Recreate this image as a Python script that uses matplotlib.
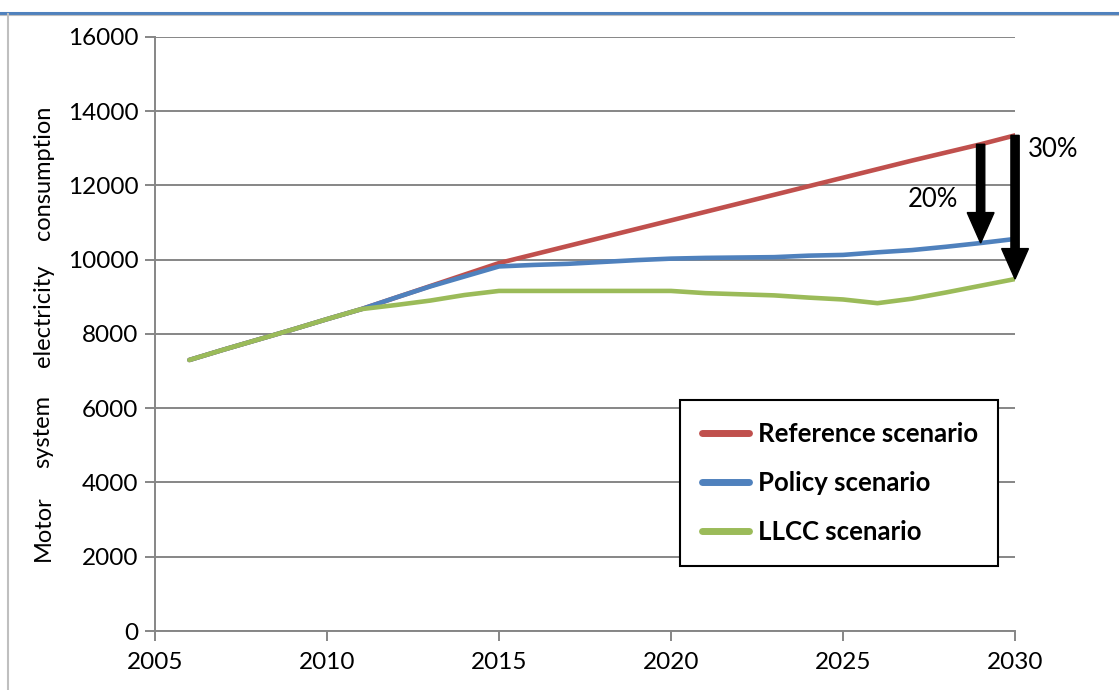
import numpy as np
import matplotlib.pyplot as plt
from matplotlib.lines import Line2D

plt.rcParams['font.family'] = ['Lato', 'DejaVu Sans']

# yearly values, 2006-2030
years = list(range(2006, 2031))
reference = [7300, 7580, 7850, 8120, 8400, 8670, 8980, 9290, 9600, 9910,
             10140, 10370, 10600, 10830, 11060, 11290, 11520, 11750, 11980, 12210,
             12440, 12670, 12890, 13110, 13350]
policy = [7300, 7580, 7850, 8120, 8400, 8670, 8980, 9280, 9550, 9820,
          9860, 9890, 9940, 9990, 10030, 10050, 10060, 10070, 10110, 10130,
          10200, 10260, 10350, 10450, 10560]
llcc = [7300, 7580, 7850, 8120, 8400, 8670, 8780, 8900, 9050, 9160,
        9160, 9160, 9160, 9160, 9160, 9100, 9070, 9040, 8980, 8930,
        8830, 8950, 9120, 9300, 9480]
labels = ['Reference scenario', 'Policy scenario', 'LLCC scenario']
colors = ['#C0504D', '#4F81BD', '#9BBB59']
ylabel_words = ['Motor', 'system', 'electricity', 'consumption']

grey = '#868686'

fig = plt.figure(figsize=(11.19, 6.9), dpi=100)
ax = fig.add_axes([0.1385, 0.0855, 0.7686, 0.8609])

for vals, lab, col in zip([reference, policy, llcc], labels, colors):
    ax.plot(years, vals, color=col, lw=3.3, label=lab, solid_capstyle='round', zorder=3)

ax.set_xlim(2005, 2030)
ax.set_ylim(0, 16000)
ax.set_xticks(range(2005, 2031, 5))
ax.set_yticks(range(0, 16001, 2000))
ax.grid(axis='y', color=grey, lw=1.4)
ax.set_axisbelow(True)
for side in ['top', 'right']:
    ax.spines[side].set_visible(False)
for side in ['left', 'bottom']:
    ax.spines[side].set_color(grey)
    ax.spines[side].set_linewidth(1.4)
ax.tick_params(axis='both', colors=grey, length=7, width=1.4, labelsize=17.5,
               labelcolor='black')
ax.tick_params(axis='x', pad=8)
ax.tick_params(axis='y', pad=5)

# reduction arrows from reference down to the scenarios
i29 = years.index(2029)
i30 = years.index(2030)
ax.arrow(2029, reference[i29], 0, policy[i29] - reference[i29], width=0.24,
         head_width=0.78, head_length=820, length_includes_head=True,
         color='black', zorder=4)
ax.arrow(2030, reference[i30], 0, llcc[i30] - reference[i30], width=0.24,
         head_width=0.78, head_length=820, length_includes_head=True,
         color='black', zorder=4, clip_on=False)
ax.text(2027.6, 11610, '20%', fontsize=18.5, ha='center', va='center')
ax.text(2031.1, 12960, '30%', fontsize=18.5, ha='center', va='center', clip_on=False)

leg = ax.legend(loc='lower left', bbox_to_anchor=(0.6105, 0.1094, 0.3695, 0.29),
                mode='expand', borderaxespad=0, fancybox=False, edgecolor='black',
                framealpha=1, borderpad=0.86, labelspacing=0.97, handlelength=1.83,
                handletextpad=0.35, prop={'weight': 'bold', 'size': 18.5})
leg.get_frame().set_linewidth(1.5)
for h in leg.get_lines():
    h.set_linewidth(5)

# spread-out y label words
for word, yfrac in zip(ylabel_words, [0.235, 0.375, 0.543, 0.749]):
    fig.text(0.0385, yfrac, word, rotation=90, fontsize=17, ha='center', va='center')

# frame lines around the chart
fig.add_artist(Line2D([0, 1], [0.981, 0.981], color='#4F81BD', lw=2.2))
fig.add_artist(Line2D([0, 1], [0.978, 0.978], color='#BFBFBF', lw=0.8))
fig.add_artist(Line2D([0.0072, 0.0072], [0, 0.979], color='#BFBFBF', lw=1.5))

fig.savefig('out.png', dpi=100)
